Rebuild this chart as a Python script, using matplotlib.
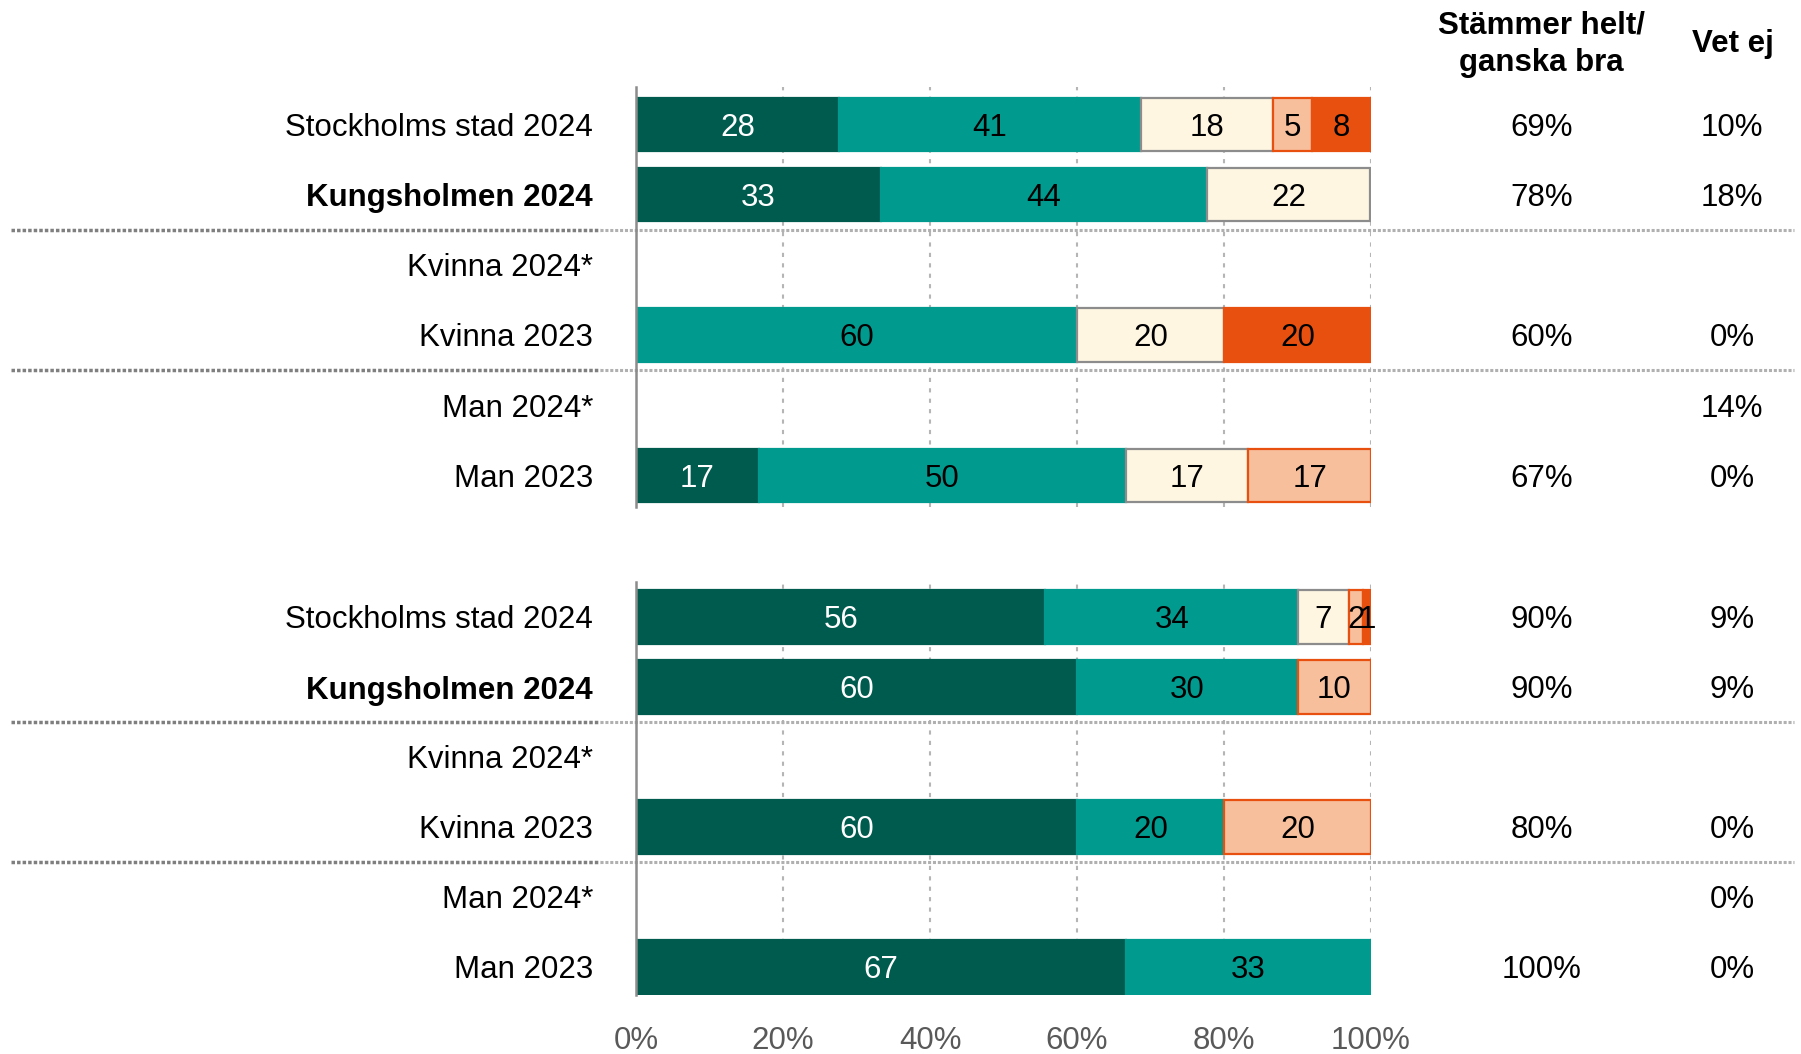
import numpy as np
import matplotlib.pyplot as plt

plt.rcParams['font.family'] = ['Liberation Sans', 'DejaVu Sans']

# Rows (same in both panels)
rows = ['Stockholms stad 2024', 'Kungsholmen 2024', 'Kvinna 2024*',
        'Kvinna 2023', 'Man 2024*', 'Man 2023']

# Top panel: share per answer option (%)
top_helt = [27.6, 33.3, 0, 0, 0, 16.7]
top_ganska_bra = [41.1, 44.4, 0, 60, 0, 50]
top_varken = [18.0, 22.2, 0, 20, 0, 16.6]
top_ganska_daligt = [5.3, 0, 0, 0, 0, 16.7]
top_inte_alls = [8.0, 0, 0, 20, 0, 0]
top_bra_total = ['69%', '78%', '', '60%', '', '67%']
top_vet_ej = ['10%', '18%', '', '0%', '14%', '0%']

# Bottom panel
bot_helt = [55.7, 60, 0, 60, 0, 66.7]
bot_ganska_bra = [34.4, 30, 0, 20, 0, 33.3]
bot_varken = [6.9, 0, 0, 0, 0, 0]
bot_ganska_daligt = [1.9, 10, 0, 20, 0, 0]
bot_inte_alls = [1.1, 0, 0, 0, 0, 0]
bot_bra_total = ['90%', '90%', '', '80%', '', '100%']
bot_vet_ej = ['9%', '9%', '', '0%', '0%', '0%']

colors = ['#005b4f', '#009a8f', '#fff6e2', '#f8bf9d', '#e8500f']
edges = ['#005b4f', '#009a8f', '#8c8c8c', '#e8500f', '#e8500f']
text_colors = ['white', 'black', 'black', 'black', 'black']

fig = plt.figure(figsize=(18.01, 10.54), dpi=100)
# axes placed in pixels: top 87-507, bottom 582-995
ax_top = fig.add_axes([636 / 1801, 1 - 507 / 1054, 735 / 1801, 420 / 1054])
ax_bot = fig.add_axes([636 / 1801, 1 - 995 / 1054, 735 / 1801, 413 / 1054])

FS = 22.5


def draw_panel(ax, series, bra_total, vet_ej, ylim, show_xlabels):
    y = np.arange(len(rows))
    left = np.zeros(len(rows))
    for vals, c, ec, tc in zip(series, colors, edges, text_colors):
        vals = np.array(vals, dtype=float)
        m = vals > 0
        ax.barh(y[m], vals[m], left=left[m], height=0.76, color=c,
                edgecolor=ec, linewidth=1.6, zorder=2)
        for yi, v, l in zip(y[m], vals[m], left[m]):
            ax.text(l + v / 2, yi, f'{v:.0f}', ha='center', va='center_baseline',
                    color=tc, fontsize=FS, zorder=3)
        left += vals

    tr = ax.get_yaxis_transform()
    for yi, s1, s2 in zip(y, bra_total, vet_ej):
        ax.text(1.232, yi, s1, transform=tr, ha='center', va='center_baseline', fontsize=FS)
        ax.text(1.491, yi, s2, transform=tr, ha='center', va='center_baseline', fontsize=FS)

    # separators between groups
    for ys in (1.5, 3.5):
        ax.plot([-0.851, -0.049], [ys, ys], transform=tr, clip_on=False,
                color='#7f7f7f', lw=2.5, ls=(0, (1, 0.6)), zorder=1)
        ax.plot([-0.049, 1.575], [ys, ys], transform=tr, clip_on=False,
                color='#b0b0b0', lw=2.2, ls=(0, (1, 0.6)), zorder=1)

    ax.set_xlim(0, 100)
    ax.set_ylim(*ylim)
    ax.set_yticks(y)
    ax.set_yticklabels(rows, fontsize=FS, va='center_baseline')
    ax.get_yticklabels()[1].set_fontweight('bold')
    ax.set_xticks([0, 20, 40, 60, 80, 100])
    ax.set_xticklabels(['0%', '20%', '40%', '60%', '80%', '100%'],
                       fontsize=FS, color='#595959')
    ax.tick_params(axis='y', length=0, pad=31)
    ax.tick_params(axis='x', length=0, pad=22, labelbottom=show_xlabels)
    ax.xaxis.grid(True, color='#b5b5b5', lw=1.5, ls=(0, (2, 3)))
    ax.set_axisbelow(True)
    for sp in ('top', 'right', 'bottom'):
        ax.spines[sp].set_visible(False)
    ax.spines['left'].set_color('#8c8c8c')
    ax.spines['left'].set_linewidth(1.8)


draw_panel(ax_top, [top_helt, top_ganska_bra, top_varken, top_ganska_daligt, top_inte_alls],
           top_bra_total, top_vet_ej, (5.45, -0.53), False)
draw_panel(ax_bot, [bot_helt, bot_ganska_bra, bot_varken, bot_ganska_daligt, bot_inte_alls],
           bot_bra_total, bot_vet_ej, (5.4, -0.5), True)

fig.text(0.856, 0.958, 'Stämmer helt/\nganska bra', ha='center', va='center',
         fontsize=FS, fontweight='bold', linespacing=1.35)
fig.text(0.9623, 0.9586, 'Vet ej', ha='center', va='center',
         fontsize=FS, fontweight='bold')

plt.savefig('out.png', dpi=100)
